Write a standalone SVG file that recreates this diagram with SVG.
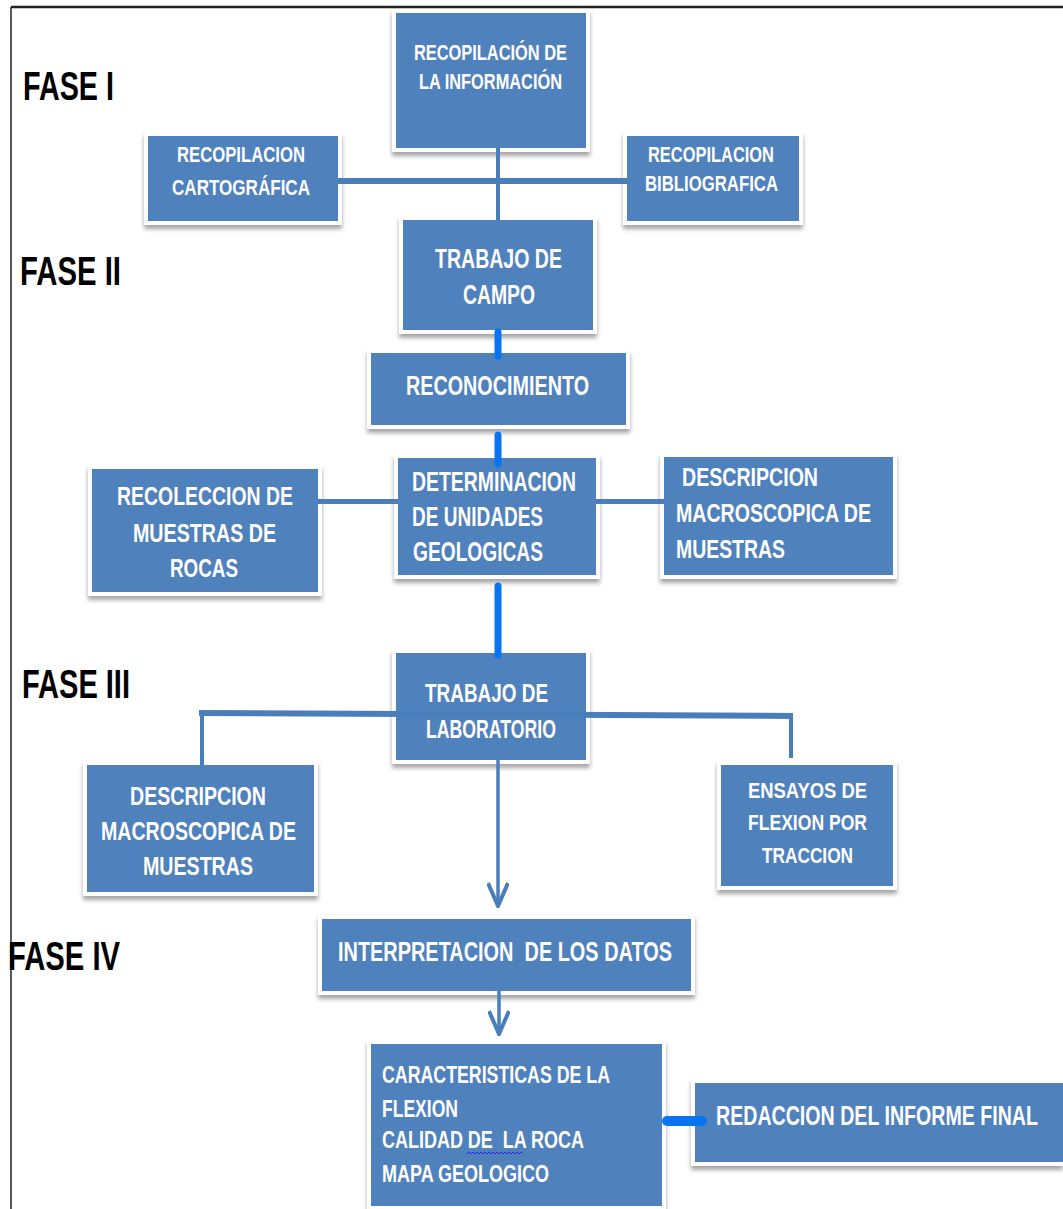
<svg xmlns="http://www.w3.org/2000/svg" width="1063" height="1209" viewBox="0 0 1063 1209">
<style>
.frame{fill:#ffffff;filter:url(#sh)}
.box{fill:#4f81bd}
.t{font-family:"Liberation Sans",Arial,sans-serif;font-weight:bold;fill:#ffffff;white-space:pre}
.fase{font-family:"Liberation Sans",Arial,sans-serif;font-weight:bold;fill:#000000;font-size:40px}
.ln{stroke:#4a7ebb;fill:none}
.br{stroke:#0a74f0;fill:none;stroke-linecap:round}
</style>
<defs>
<filter id="sh" x="-10%" y="-10%" width="120%" height="130%">
<feDropShadow dx="0" dy="4" stdDeviation="2" flood-color="#000" flood-opacity="0.35"/>
</filter>
<marker id="chev" viewBox="0 0 26 22" refX="24" refY="11" markerWidth="26" markerHeight="22" markerUnits="userSpaceOnUse" orient="auto">
<path d="M1,1 L24,11 L1,21" fill="none" stroke="#4a7ebb" stroke-width="4"/>
</marker>
</defs>
<rect x="0" y="0" width="1063" height="1209" fill="#ffffff"/>
<g id="border">
<line x1="11" y1="7" x2="1063" y2="7" stroke="#222" stroke-width="2.5"/>
<line x1="11" y1="7" x2="11" y2="1209" stroke="#222" stroke-width="1.5"/>
</g>
<g id="labels">
<text class="fase" x="23" y="100" textLength="91" lengthAdjust="spacingAndGlyphs">FASE I</text>
<text class="fase" x="20" y="285" textLength="101" lengthAdjust="spacingAndGlyphs">FASE II</text>
<text class="fase" x="22" y="698" textLength="108" lengthAdjust="spacingAndGlyphs">FASE III</text>
<text class="fase" x="8" y="970" textLength="112" lengthAdjust="spacingAndGlyphs">FASE IV</text>
</g>
<g id="nodeA">
<rect class="frame" x="392" y="9" width="198" height="143"/>
<rect class="box" x="396" y="13" width="190" height="135"/>
<text class="t" font-size="22" x="414" y="60" textLength="153" lengthAdjust="spacingAndGlyphs">RECOPILACIÓN DE</text>
<text class="t" font-size="22" x="419" y="89" textLength="143" lengthAdjust="spacingAndGlyphs">LA INFORMACIÓN</text>
</g>
<g id="nodeB">
<rect class="frame" x="144" y="132" width="198" height="93"/>
<rect class="box" x="148" y="136" width="190" height="85"/>
<text class="t" font-size="22" x="177" y="162" textLength="128" lengthAdjust="spacingAndGlyphs">RECOPILACION</text>
<text class="t" font-size="22" x="172" y="195" textLength="138" lengthAdjust="spacingAndGlyphs">CARTOGRÁFICA</text>
</g>
<g id="nodeC">
<rect class="frame" x="623" y="132" width="180" height="93"/>
<rect class="box" x="627" y="136" width="172" height="85"/>
<text class="t" font-size="22" x="648" y="162" textLength="126" lengthAdjust="spacingAndGlyphs">RECOPILACION</text>
<text class="t" font-size="22" x="645" y="191" textLength="133" lengthAdjust="spacingAndGlyphs">BIBLIOGRAFICA</text>
</g>
<g id="nodeD">
<rect class="frame" x="399" y="216" width="198" height="118"/>
<rect class="box" x="403" y="220" width="190" height="110"/>
<text class="t" font-size="27" x="435" y="268" textLength="127" lengthAdjust="spacingAndGlyphs">TRABAJO DE</text>
<text class="t" font-size="27" x="463" y="304" textLength="72" lengthAdjust="spacingAndGlyphs">CAMPO</text>
</g>
<g id="nodeE">
<rect class="frame" x="367" y="349" width="263" height="80"/>
<rect class="box" x="371" y="353" width="255" height="72"/>
<text class="t" font-size="27" x="406" y="395" textLength="183" lengthAdjust="spacingAndGlyphs">RECONOCIMIENTO</text>
</g>
<g id="nodeF">
<rect class="frame" x="394" y="454" width="206" height="125"/>
<rect class="box" x="398" y="458" width="198" height="117"/>
<text class="t" font-size="28" x="412" y="491" textLength="164" lengthAdjust="spacingAndGlyphs">DETERMINACION</text>
<text class="t" font-size="28" x="412" y="526" textLength="131" lengthAdjust="spacingAndGlyphs">DE UNIDADES</text>
<text class="t" font-size="28" x="413" y="561" textLength="130" lengthAdjust="spacingAndGlyphs">GEOLOGICAS</text>
</g>
<g id="nodeG">
<rect class="frame" x="88" y="465" width="234" height="131"/>
<rect class="box" x="92" y="469" width="226" height="123"/>
<text class="t" font-size="26" x="117" y="505" textLength="176" lengthAdjust="spacingAndGlyphs">RECOLECCION DE</text>
<text class="t" font-size="26" x="133" y="542" textLength="143" lengthAdjust="spacingAndGlyphs">MUESTRAS DE</text>
<text class="t" font-size="26" x="170" y="577" textLength="68" lengthAdjust="spacingAndGlyphs">ROCAS</text>
</g>
<g id="nodeH">
<rect class="frame" x="660" y="453" width="237" height="126"/>
<rect class="box" x="664" y="457" width="229" height="118"/>
<text class="t" font-size="26" x="682" y="486" textLength="136" lengthAdjust="spacingAndGlyphs">DESCRIPCION</text>
<text class="t" font-size="26" x="676" y="522" textLength="195" lengthAdjust="spacingAndGlyphs">MACROSCOPICA DE</text>
<text class="t" font-size="26" x="676" y="558" textLength="109" lengthAdjust="spacingAndGlyphs">MUESTRAS</text>
</g>
<g id="nodeI">
<rect class="frame" x="392" y="649" width="198" height="115"/>
<rect class="box" x="396" y="653" width="190" height="107"/>
<text class="t" font-size="26" x="425" y="702" textLength="123" lengthAdjust="spacingAndGlyphs">TRABAJO DE</text>
<text class="t" font-size="26" x="426" y="738" textLength="130" lengthAdjust="spacingAndGlyphs">LABORATORIO</text>
</g>
<g id="nodeJ">
<rect class="frame" x="83" y="761" width="235" height="135"/>
<rect class="box" x="87" y="765" width="227" height="127"/>
<text class="t" font-size="25" x="130" y="805" textLength="136" lengthAdjust="spacingAndGlyphs">DESCRIPCION</text>
<text class="t" font-size="25" x="101" y="840" textLength="195" lengthAdjust="spacingAndGlyphs">MACROSCOPICA DE</text>
<text class="t" font-size="25" x="143" y="875" textLength="110" lengthAdjust="spacingAndGlyphs">MUESTRAS</text>
</g>
<g id="nodeK">
<rect class="frame" x="717" y="761" width="180" height="129"/>
<rect class="box" x="721" y="765" width="172" height="121"/>
<text class="t" font-size="22" x="748" y="798" textLength="119" lengthAdjust="spacingAndGlyphs">ENSAYOS DE</text>
<text class="t" font-size="22" x="748" y="830" textLength="119" lengthAdjust="spacingAndGlyphs">FLEXION POR</text>
<text class="t" font-size="22" x="762" y="863" textLength="91" lengthAdjust="spacingAndGlyphs">TRACCION</text>
</g>
<g id="nodeL">
<rect class="frame" x="318" y="915" width="377" height="80"/>
<rect class="box" x="322" y="919" width="369" height="72"/>
<text class="t" font-size="27" x="338" y="961" textLength="334" lengthAdjust="spacingAndGlyphs">INTERPRETACION  DE LOS DATOS</text>
</g>
<g id="nodeM">
<rect class="frame" x="367" y="1040" width="299" height="172"/>
<rect class="box" x="371" y="1044" width="291" height="162"/>
<text class="t" font-size="24" x="382" y="1083" textLength="228" lengthAdjust="spacingAndGlyphs">CARACTERISTICAS DE LA</text>
<text class="t" font-size="24" x="382" y="1117" textLength="76" lengthAdjust="spacingAndGlyphs">FLEXION</text>
<text class="t" font-size="24" x="382" y="1148" textLength="202" lengthAdjust="spacingAndGlyphs">CALIDAD DE  LA ROCA</text>
<text class="t" font-size="24" x="382" y="1182" textLength="167" lengthAdjust="spacingAndGlyphs">MAPA GEOLOGICO</text>
<path d="M467,1154 l2,-2 l2,2 l2,-2 l2,2 l2,-2 l2,2 l2,-2 l2,2 l2,-2 l2,2 l2,-2 l2,2 l2,-2 l2,2 l2,-2 l2,2 l2,-2 l2,2 l2,-2 l2,2 l2,-2 l2,2 l2,-2 l2,2 l2,-2 l2,2 l2,-2 l1,1" fill="none" stroke="#2a2ae0" stroke-width="1"/>
</g>
<g id="nodeN">
<rect class="frame" x="691" y="1079" width="372" height="87"/>
<rect class="box" x="695" y="1083" width="368" height="79"/>
<text class="t" font-size="27" x="716" y="1125" textLength="322" lengthAdjust="spacingAndGlyphs">REDACCION DEL INFORME FINAL</text>
</g>
<g id="connectors">
<line class="ln" x1="498" y1="148" x2="498" y2="220" stroke-width="4"/>
<line class="ln" x1="338" y1="181" x2="627" y2="181" stroke-width="6"/>
<line class="br" x1="498" y1="332" x2="498" y2="356" stroke-width="7"/>
<line class="br" x1="498" y1="435" x2="498" y2="464" stroke-width="7"/>
<line class="ln" x1="318" y1="501.5" x2="398" y2="501.5" stroke-width="5"/>
<line class="ln" x1="596" y1="501.5" x2="664" y2="501.5" stroke-width="5"/>
<line class="br" x1="498" y1="586" x2="498" y2="655" stroke-width="7"/>
<path class="ln" d="M199,713 L793,716" stroke-width="6"/>
<line class="ln" x1="202" y1="713" x2="202" y2="765" stroke-width="4"/>
<line class="ln" x1="791" y1="716" x2="791" y2="758" stroke-width="4"/>
<line class="ln" x1="498" y1="760" x2="498" y2="906" stroke-width="3.5" marker-end="url(#chev)"/>
<line class="ln" x1="499" y1="991" x2="499" y2="1034" stroke-width="3.5" marker-end="url(#chev)"/>
<line class="br" x1="667" y1="1121" x2="702" y2="1121" stroke-width="10"/>
</g>
</svg>
